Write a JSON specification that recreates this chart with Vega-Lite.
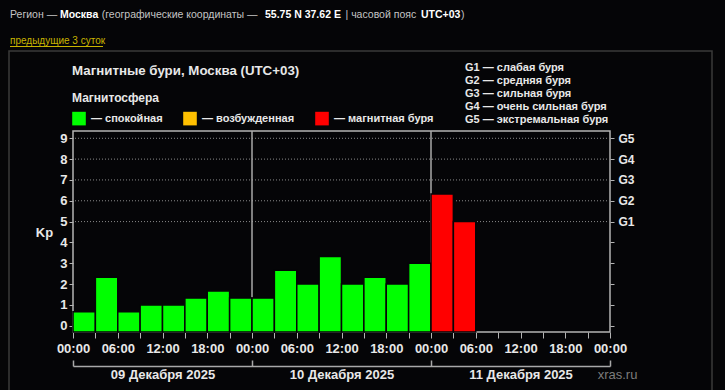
{
  "$schema": "https://vega.github.io/schema/vega-lite/v6.json",
  "width": 537,
  "height": 201,
  "autosize": {"type": "none"},
  "padding": {"left": 73, "top": 131, "right": 115, "bottom": 58},
  "background": "#050507",
  "config": {
    "view": {"stroke": "#b4b4b4", "strokeWidth": 1.5},
    "font": "Liberation Sans"
  },
  "layer": [
    {
      "data": {"values": [{}]},
      "mark": {"type": "rect", "filled": false, "stroke": "#3a3a3a", "strokeWidth": 1.5},
      "encoding": {"x": {"value": -64}, "x2": {"value": 639}, "y": {"value": -80}, "y2": {"value": 275}}
    },
    {
      "data": {"values": [{}]},
      "mark": {"type": "text", "fontSize": 10.5, "align": "left", "baseline": "middle", "color": "#c4c4c4"},
      "encoding": {"x": {"value": -63}, "y": {"value": -116}, "text": {"value": "Регион —"}}
    },
    {
      "data": {"values": [{}]},
      "mark": {"type": "text", "fontSize": 10.5, "fontWeight": "bold", "align": "left", "baseline": "middle", "color": "#ffffff"},
      "encoding": {"x": {"value": -13}, "y": {"value": -116}, "text": {"value": "Москва"}}
    },
    {
      "data": {"values": [{}]},
      "mark": {"type": "text", "fontSize": 10.5, "align": "left", "baseline": "middle", "color": "#c4c4c4"},
      "encoding": {"x": {"value": 28.7}, "y": {"value": -116}, "text": {"value": "(географические координаты —"}}
    },
    {
      "data": {"values": [{}]},
      "mark": {"type": "text", "fontSize": 10.5, "fontWeight": "bold", "align": "left", "baseline": "middle", "color": "#ffffff"},
      "encoding": {"x": {"value": 192}, "y": {"value": -116}, "text": {"value": "55.75 N 37.62 E"}}
    },
    {
      "data": {"values": [{}]},
      "mark": {"type": "text", "fontSize": 10.5, "align": "left", "baseline": "middle", "color": "#c4c4c4"},
      "encoding": {"x": {"value": 272.5}, "y": {"value": -116}, "text": {"value": "| часовой пояс"}}
    },
    {
      "data": {"values": [{}]},
      "mark": {"type": "text", "fontSize": 10.5, "fontWeight": "bold", "align": "left", "baseline": "middle", "color": "#ffffff"},
      "encoding": {"x": {"value": 348}, "y": {"value": -116}, "text": {"value": "UTC+03"}}
    },
    {
      "data": {"values": [{}]},
      "mark": {"type": "text", "fontSize": 10.5, "align": "left", "baseline": "middle", "color": "#c4c4c4"},
      "encoding": {"x": {"value": 388}, "y": {"value": -116}, "text": {"value": ")"}}
    },
    {
      "data": {"values": [{}]},
      "mark": {"type": "text", "fontSize": 10, "align": "left", "baseline": "middle", "color": "#c8b400"},
      "encoding": {"x": {"value": -63}, "y": {"value": -90}, "text": {"value": "предыдущие 3 суток"}}
    },
    {
      "data": {"values": [{}]},
      "mark": {"type": "rule", "color": "#c8b400", "strokeWidth": 1},
      "encoding": {"x": {"value": -63}, "x2": {"value": 30}, "y": {"value": -84.5}}
    },
    {
      "data": {"values": [{}]},
      "mark": {"type": "text", "fontSize": 13.3, "fontWeight": "bold", "align": "left", "baseline": "middle", "color": "#e8e8e8"},
      "encoding": {"x": {"value": -1}, "y": {"value": -60.3}, "text": {"value": "Магнитные бури, Москва (UTC+03)"}}
    },
    {
      "data": {"values": [{}]},
      "mark": {"type": "text", "fontSize": 11, "fontWeight": "bold", "align": "left", "baseline": "middle", "lineHeight": 13.1, "color": "#e8e8e8"},
      "encoding": {"x": {"value": 392}, "y": {"value": -63.3}, "text": {"value": ["G1 — слабая буря", "G2 — средняя буря", "G3 — сильная буря", "G4 — очень сильная буря", "G5 — экстремальная буря"]}}
    },
    {
      "data": {"values": [{}]},
      "mark": {"type": "text", "fontSize": 13, "align": "left", "baseline": "middle", "color": "#7c7c7c"},
      "encoding": {"x": {"value": 524.7}, "y": {"value": 244}, "text": {"value": "xras.ru"}}
    },
    {
      "data": {"values": [{"g": 5}, {"g": 6}, {"g": 7}, {"g": 8}, {"g": 9}]},
      "mark": {"type": "rule", "color": "#8a8a8a", "strokeDash": [1, 2], "strokeWidth": 1},
      "encoding": {
        "y": {
          "field": "g", "type": "quantitative",
          "scale": {"domain": [-0.3, 9.35], "nice": false, "zero": false},
          "axis": {
            "orient": "right", "title": null, "values": [0, 1, 2, 3, 4, 5, 6, 7, 8, 9],
            "labelExpr": "datum.value >= 5 ? 'G' + (datum.value - 4) : ''",
            "domain": false, "grid": false, "tickSize": 4, "tickColor": "#b4b4b4", "tickWidth": 1,
            "labelPadding": 4, "labelFontSize": 12, "labelFontWeight": "bold", "labelColor": "#e8e8e8"
          }
        }
      }
    },
    {
      "data": {"values": [{"b": 24}, {"b": 48}]},
      "mark": {"type": "rule", "color": "#a8a8a8", "strokeWidth": 1.5},
      "encoding": {
        "x": {
          "field": "b", "type": "quantitative",
          "scale": {"domain": [0, 72], "nice": false, "zero": false},
          "axis": {
            "orient": "bottom", "title": null, "offset": 34,
            "values": [0, 12, 24, 36, 48, 60, 72],
            "labelExpr": "datum.value == 12 ? '09 Декабря 2025' : datum.value == 36 ? '10 Декабря 2025' : datum.value == 60 ? '11 Декабря 2025' : ''",
            "domain": true, "domainColor": "#a8a8a8", "domainWidth": 1.5, "grid": false,
            "tickSize": -6, "tickColor": "#a8a8a8", "tickWidth": 1.5,
            "tickOpacity": {"condition": {"test": "datum.value % 24 == 0", "value": 1}, "value": 0},
            "labelPadding": 8.7, "labelFlush": false, "labelOverlap": false,
            "labelFontSize": 13, "labelFontWeight": "bold", "labelColor": "#e8e8e8"
          }
        }
      }
    },
    {
      "data": {
        "values": [
          {"start": 0, "end": 3, "kp": 0.67, "state": "спокойная"},
          {"start": 3, "end": 6, "kp": 2.33, "state": "спокойная"},
          {"start": 6, "end": 9, "kp": 0.67, "state": "спокойная"},
          {"start": 9, "end": 12, "kp": 1.0, "state": "спокойная"},
          {"start": 12, "end": 15, "kp": 1.0, "state": "спокойная"},
          {"start": 15, "end": 18, "kp": 1.33, "state": "спокойная"},
          {"start": 18, "end": 21, "kp": 1.67, "state": "спокойная"},
          {"start": 21, "end": 24, "kp": 1.33, "state": "спокойная"},
          {"start": 24, "end": 27, "kp": 1.33, "state": "спокойная"},
          {"start": 27, "end": 30, "kp": 2.67, "state": "спокойная"},
          {"start": 30, "end": 33, "kp": 2.0, "state": "спокойная"},
          {"start": 33, "end": 36, "kp": 3.33, "state": "спокойная"},
          {"start": 36, "end": 39, "kp": 2.0, "state": "спокойная"},
          {"start": 39, "end": 42, "kp": 2.33, "state": "спокойная"},
          {"start": 42, "end": 45, "kp": 2.0, "state": "спокойная"},
          {"start": 45, "end": 48, "kp": 3.0, "state": "спокойная"},
          {"start": 48, "end": 51, "kp": 6.33, "state": "магнитная буря"},
          {"start": 51, "end": 54, "kp": 5.0, "state": "магнитная буря"}
        ]
      },
      "mark": {"type": "bar", "stroke": "#050507", "strokeWidth": 1.5},
      "encoding": {
        "x": {
          "field": "start", "type": "quantitative",
          "scale": {"domain": [0, 72], "nice": false, "zero": false},
          "axis": {
            "orient": "bottom", "title": null,
            "values": [0, 3, 6, 9, 12, 15, 18, 21, 24, 27, 30, 33, 36, 39, 42, 45, 48, 51, 54, 57, 60, 63, 66, 69, 72],
            "labelExpr": "datum.value % 6 == 0 ? ((datum.value % 24 < 10 ? '0' : '') + (datum.value % 24) + ':00') : ''",
            "domain": false, "grid": false, "tickSize": 6, "tickColor": "#b4b4b4", "tickWidth": 1,
            "labelPadding": 4, "labelFlush": false, "labelOverlap": false,
            "labelFontSize": 13, "labelFontWeight": "bold", "labelColor": "#e8e8e8"
          }
        },
        "x2": {"field": "end"},
        "y": {
          "field": "kp", "type": "quantitative",
          "scale": {"domain": [-0.3, 9.35], "nice": false, "zero": false},
          "axis": {
            "orient": "left", "values": [0, 1, 2, 3, 4, 5, 6, 7, 8, 9],
            "title": "Kp", "titleAngle": 0, "titleX": -29, "titleY": 101.5,
            "titleAlign": "center", "titleBaseline": "middle",
            "titleFontSize": 13, "titleFontWeight": "bold", "titleColor": "#e8e8e8",
            "domain": false, "grid": false, "tickSize": 4, "tickColor": "#b4b4b4", "tickWidth": 1,
            "labelPadding": 2, "labelFontSize": 13, "labelFontWeight": "bold", "labelColor": "#e8e8e8"
          }
        },
        "y2": {"datum": -0.3},
        "color": {
          "field": "state", "type": "nominal",
          "scale": {"domain": ["спокойная", "возбужденная", "магнитная буря"], "range": ["#00ff00", "#ffc000", "#ff0000"]},
          "legend": {
            "orient": "none", "legendX": -1, "legendY": -38.5, "direction": "horizontal",
            "title": "Магнитосфера", "titleFontSize": 12, "titleFontWeight": "bold", "titleColor": "#e8e8e8", "titlePadding": 7,
            "padding": 0, "symbolType": "square", "symbolSize": 185, "symbolStrokeWidth": 0, "symbolOpacity": 1,
            "labelFontSize": 11, "labelFontWeight": "bold", "labelColor": "#e8e8e8", "labelOffset": 5,
            "columnPadding": 20, "labelExpr": "'— ' + datum.label", "labelLimit": 0
          }
        }
      }
    }
  ],
  "resolve": {"axis": {"x": "independent", "y": "independent"}}
}
